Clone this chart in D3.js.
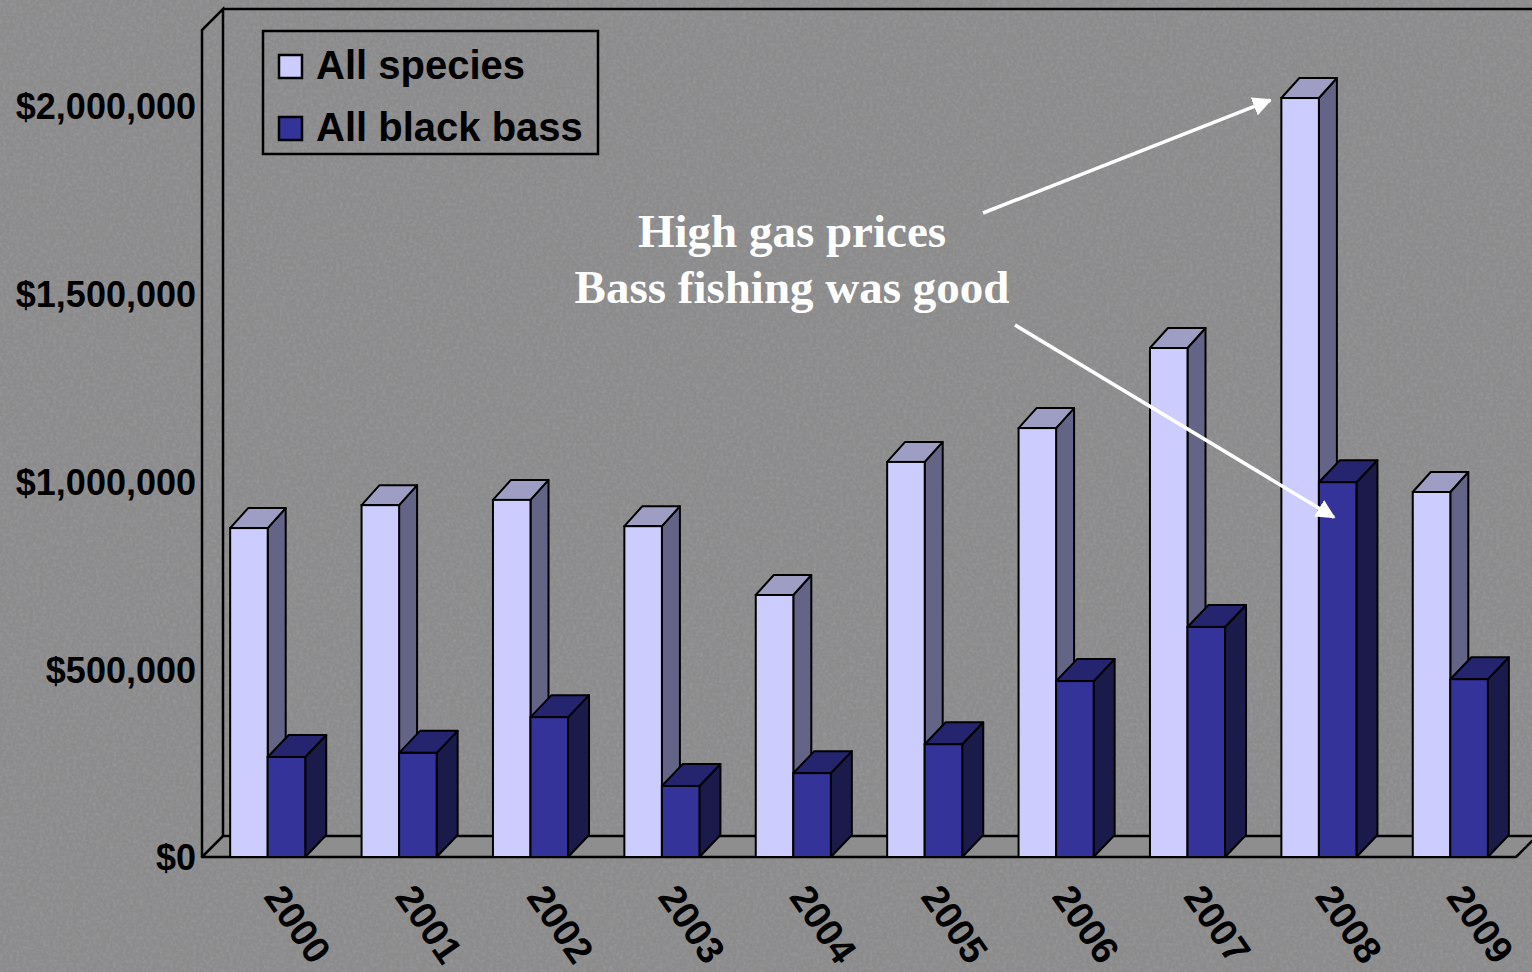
<!DOCTYPE html>
<html>
<head>
<meta charset="utf-8">
<script src="https://cdn.jsdelivr.net/npm/d3@7"></script>
<style>
  html, body { margin: 0; padding: 0; background: #8a8a8b; overflow: hidden; }
  svg { display: block; }
</style>
</head>
<body>
<svg id="chart" width="1532" height="972"></svg>
<script>
// ---------- data ----------
const years = ['2000','2001','2002','2003','2004','2005','2006','2007','2008','2009'];
const seriesNames = ['All species', 'All black bass'];
const allSpecies = [875000, 936000, 950000, 880000, 697000, 1051000, 1141000, 1354000, 2019000, 971000];
const blackBass  = [266000, 277000, 372000, 189000, 223000, 300000, 468000, 612000, 997000, 473000];
const yTickValues = [0, 500000, 1000000, 1500000, 2000000];
const yMax = 2200000;
const annotationLines = ['High gas prices', 'Bass fishing was good'];

// ---------- layout ----------
const W = 1532, H = 972;
const plotLeft = 202, plotRight = 1516, floorY = 857;
const depth = { dx: 21, dy: -21 };
const barDepth = [{ dx: 18, dy: -20 }, { dx: 21, dy: -22 }];
const colors = [
  { front: '#ccccff', top: '#9e9ec4', side: '#646487' },
  { front: '#333399', top: '#25256f', side: '#1b1b4b' }
];

const svg = d3.select('#chart');

// background texture
const defs = svg.append('defs');
const f = defs.append('filter').attr('id', 'tex').attr('x', 0).attr('y', 0).attr('width', '100%').attr('height', '100%');
f.append('feTurbulence').attr('type', 'fractalNoise').attr('baseFrequency', 0.3).attr('numOctaves', 2).attr('seed', 3).attr('result', 'n');
f.append('feColorMatrix').attr('in', 'n').attr('type', 'matrix')
  .attr('values', '0 0 0 0 0.45  0 0 0 0 0.45  0 0 0 0 0.48  1.2 0 0 0 -0.45');
svg.append('rect').attr('width', W).attr('height', H).attr('fill', '#8b8b8c');
svg.append('rect').attr('width', W).attr('height', H).attr('filter', 'url(#tex)').attr('opacity', 0.45);

// ---------- scales ----------
const x0 = d3.scaleBand().domain(years).range([plotLeft, plotRight]).paddingInner(0).paddingOuter(0);
const x1 = d3.scaleBand().domain(seriesNames).range([0, x0.bandwidth()]).paddingInner(0).paddingOuter(0.75);
const y = d3.scaleLinear().domain([0, yMax]).range([floorY, floorY - 827]);

const stroke = '#000';

// ---------- walls & floor ----------
const yTop = y(yMax);
const g3d = svg.append('g');
g3d.append('polygon')
  .attr('points', [[plotLeft, floorY], [plotRight, floorY], [plotRight + depth.dx, floorY + depth.dy], [plotLeft + depth.dx, floorY + depth.dy]].join(' '))
  .attr('fill', '#8e8e8e').attr('stroke', stroke).attr('stroke-width', 2.5).attr('stroke-linejoin', 'round');
g3d.append('path')
  .attr('d', `M${plotLeft},${floorY} L${plotLeft},${yTop} L${plotLeft + depth.dx},${yTop + depth.dy} L${plotLeft + depth.dx},${floorY + depth.dy}`)
  .attr('fill', 'none').attr('stroke', stroke).attr('stroke-width', 2.5);
g3d.append('path')
  .attr('d', `M${plotLeft + depth.dx},${yTop + depth.dy} L${plotRight + depth.dx},${yTop + depth.dy} L${plotRight + depth.dx},${floorY + depth.dy}`)
  .attr('fill', 'none').attr('stroke', stroke).attr('stroke-width', 2.5);

// ---------- bars ----------
const seriesValues = [allSpecies, blackBass];
const barsG = svg.append('g');
years.forEach((yr, i) => {
  seriesNames.forEach((s, j) => {
    const v = seriesValues[j][i];
    const bx = x0(yr) + x1(s), bw = x1.bandwidth();
    const by = y(v), b0 = y(0);
    const d = barDepth[j], c = colors[j];
    const g = barsG.append('g');
    g.append('polygon')
      .attr('points', [[bx + bw, by], [bx + bw + d.dx, by + d.dy], [bx + bw + d.dx, b0 + d.dy], [bx + bw, b0]].join(' '))
      .attr('fill', c.side).attr('stroke', stroke).attr('stroke-width', 2).attr('stroke-linejoin', 'round');
    g.append('polygon')
      .attr('points', [[bx, by], [bx + d.dx, by + d.dy], [bx + bw + d.dx, by + d.dy], [bx + bw, by]].join(' '))
      .attr('fill', c.top).attr('stroke', stroke).attr('stroke-width', 2).attr('stroke-linejoin', 'round');
    g.append('rect')
      .attr('x', bx).attr('y', by).attr('width', bw).attr('height', b0 - by)
      .attr('fill', c.front).attr('stroke', stroke).attr('stroke-width', 2);
  });
});

// ---------- axes ----------
const yAxis = d3.axisLeft(y).tickValues(yTickValues).tickFormat(d3.format('$,')).tickSize(0).tickPadding(6);
const yg = svg.append('g').attr('transform', `translate(${plotLeft},0)`).call(yAxis);
yg.select('.domain').remove();
yg.selectAll('text')
  .attr('fill', '#000').attr('dy', '0.36em')
  .style('font-family', '"Liberation Sans", Arial, sans-serif')
  .style('font-weight', 'bold').style('font-size', '36px');

const xAxis = d3.axisBottom(x0).tickSize(0);
const xg = svg.append('g').attr('transform', `translate(0,${floorY})`).call(xAxis);
xg.select('.domain').remove();
xg.selectAll('text')
  .attr('x', 0).attr('y', 0).attr('dy', 0)
  .attr('transform', 'translate(-5,40) rotate(55)')
  .attr('text-anchor', 'start')
  .attr('fill', '#000')
  .style('font-family', '"Liberation Sans", Arial, sans-serif')
  .style('font-weight', 'bold').style('font-size', '38px');

// ---------- legend ----------
const lg = svg.append('g');
lg.append('rect').attr('x', 263).attr('y', 31).attr('width', 335).attr('height', 123)
  .attr('fill', 'none').attr('stroke', stroke).attr('stroke-width', 2.5);
seriesNames.forEach((s, j) => {
  const yy = 55 + j * 62;
  lg.append('rect').attr('x', 279).attr('y', yy).attr('width', 23).attr('height', 23)
    .attr('fill', colors[j].front).attr('stroke', stroke).attr('stroke-width', 2.5);
  lg.append('text').attr('x', 316).attr('y', yy + 24).text(s)
    .attr('fill', '#000')
    .style('font-family', '"Liberation Sans", Arial, sans-serif')
    .style('font-weight', 'bold').style('font-size', '40px');
});

// ---------- annotation ----------
const ann = svg.append('g');
annotationLines.forEach((t, k) => {
  ann.append('text').attr('x', 792).attr('y', 247 + k * 56).attr('text-anchor', 'middle')
    .text(t).attr('fill', '#fff')
    .style('font-family', '"Liberation Serif", "Times New Roman", serif')
    .style('font-weight', 'bold').style('font-size', '47px');
});
defs.append('marker').attr('id', 'ah').attr('viewBox', '0 0 10 10').attr('refX', 9).attr('refY', 5)
  .attr('markerWidth', 5.5).attr('markerHeight', 5.5).attr('orient', 'auto').attr('markerUnits', 'strokeWidth')
  .append('path').attr('d', 'M0,0 L10,5 L0,10 Z').attr('fill', '#fff');

const i08 = years.indexOf('2008');
const lightLeft = x0('2008') + x1(seriesNames[0]);
const darkLeft = x0('2008') + x1(seriesNames[1]);
const arrows = [
  { from: [983, 213], to: [lightLeft - 11, y(allSpecies[i08]) + 2] },
  { from: [1015, 325], to: [darkLeft + 15, y(blackBass[i08]) + 35] }
];
arrows.forEach(a => {
  ann.append('line').attr('x1', a.from[0]).attr('y1', a.from[1]).attr('x2', a.to[0]).attr('y2', a.to[1])
    .attr('stroke', '#fff').attr('stroke-width', 3.5).attr('marker-end', 'url(#ah)');
});
</script>
</body>
</html>
